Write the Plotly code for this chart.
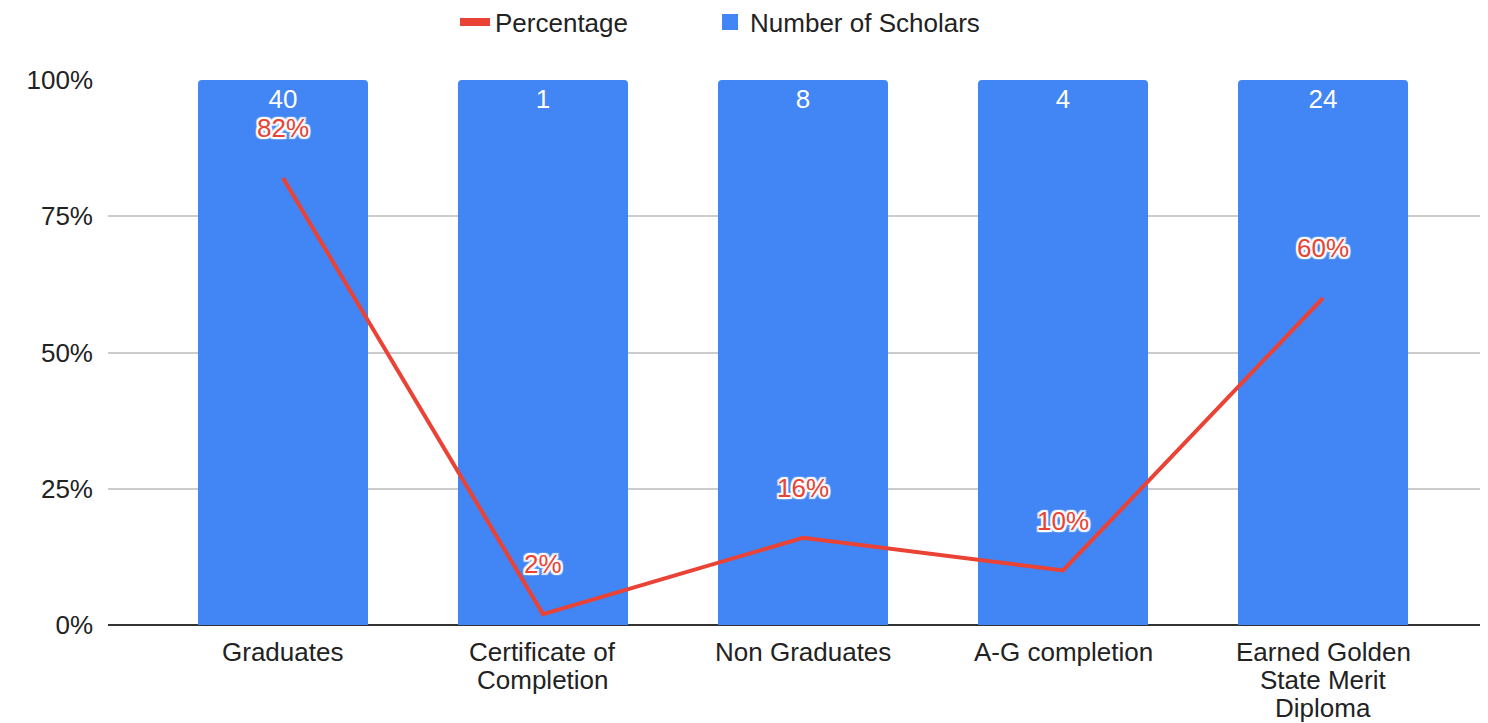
import plotly.graph_objects as go

categories = ["Graduates", "Certificate of Completion", "Non Graduates", "A-G completion", "Earned Golden State Merit Diploma"]
tick_labels = [["Graduates"], ["Certificate of", "Completion"], ["Non Graduates"], ["A-G completion"],
               ["Earned Golden", "State Merit", "Diploma"]]
scholars = [40, 1, 8, 4, 24]
percentage = [82, 2, 16, 10, 60]
y_ticks = [0, 25, 50, 75, 100]
y_tick_labels = ["0%", "25%", "50%", "75%", "100%"]

xs = list(range(len(categories)))
FONT = "Liberation Sans, Arial, sans-serif"
TXT = "#222222"
BLUE = "#4285F4"
RED = "#EA4335"

fig = go.Figure()
fig.add_trace(go.Bar(
    x=xs, y=scholars, name="Number of Scholars", showlegend=False,
    marker=dict(color=BLUE, line=dict(width=0), cornerradius=4),
    width=0.654,
    text=[str(v) for v in scholars], textposition="inside", insidetextanchor="end",
    textfont=dict(color="white", size=26, family=FONT),
    textangle=0,
))
fig.add_trace(go.Scatter(
    x=xs, y=percentage, mode="lines", name="Percentage", showlegend=False,
    line=dict(color=RED, width=4),
))
# legend entries (legend-only styling)
fig.add_trace(go.Scatter(x=[None], y=[None], mode="lines", name="Percentage",
                         line=dict(color=RED, width=8), legend="legend"))
fig.add_trace(go.Scatter(x=[None], y=[None], mode="markers", name="Number of Scholars",
                         marker=dict(color=BLUE, symbol="square", size=24), legend="legend2"))

halo = ("2px 0 1px white, -2px 0 1px white, 0 2px 1px white, 0 -2px 1px white, "
        "2px 2px 1px white, -2px -2px 1px white, 2px -2px 1px white, -2px 2px 1px white")
for x, p in zip(xs, percentage):
    fig.add_annotation(x=x, y=p, text=f"{p}%", showarrow=False, yshift=50,
                       font=dict(color=RED, size=26, family=FONT, shadow=halo))

# category labels, one line each, below the axis
for x, lines in zip(xs, tick_labels):
    for k, line in enumerate(lines):
        fig.add_annotation(x=x, y=0, text=line, showarrow=False, yanchor="middle",
                           yshift=-27 - 28 * k,
                           font=dict(color=TXT, size=26, family=FONT))

leg_common = dict(orientation="h", xanchor="left", y=1.1064, yanchor="middle",
                  font=dict(size=26, color=TXT), itemwidth=30, bgcolor="rgba(0,0,0,0)")
fig.update_layout(
    width=1488, height=723,
    margin=dict(l=100, r=11, t=72, b=106, autoexpand=False),
    barmode="stack", barnorm="percent",
    plot_bgcolor="white", paper_bgcolor="white",
    font=dict(family=FONT, size=26, color=TXT),
    legend=dict(x=0.252, **leg_common),
    legend2=dict(x=0.4372, **leg_common),
    showlegend=True,
)
fig.update_xaxes(
    range=[-0.673, 4.623], tickvals=xs, showticklabels=False,
    showgrid=False, showline=False, zeroline=False, ticks="",
)
fig.update_yaxes(
    range=[0, 100], tickmode="array", tickvals=y_ticks, ticktext=y_tick_labels,
    showgrid=True, gridcolor="#cccccc", gridwidth=1.5,
    zeroline=True, zerolinecolor="#333333", zerolinewidth=2,
    showline=False, ticks="", ticklabelstandoff=14,
    tickfont=dict(size=26, color=TXT),
)
fig.write_html("out.html")
